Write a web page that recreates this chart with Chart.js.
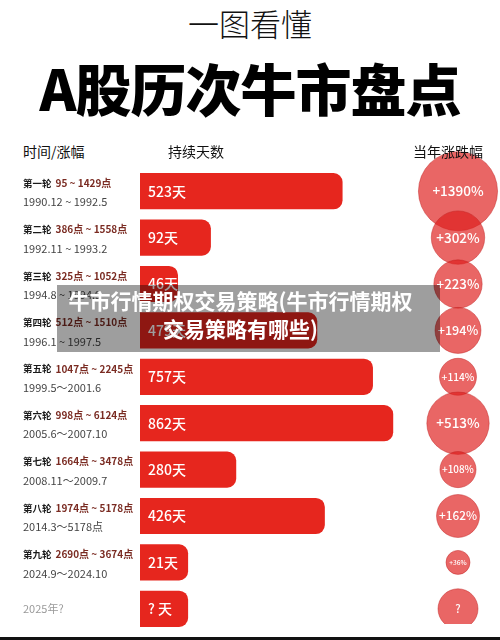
<!DOCTYPE html>
<html>
<head>
<meta charset="utf-8">
<script src="https://cdn.jsdelivr.net/npm/chart.js@4/dist/chart.umd.min.js"></script>
<style>
  html, body { margin: 0; padding: 0; background: #fff; }
  body { width: 500px; height: 640px; position: relative; overflow: hidden; font-family: "Noto Sans CJK SC", "Noto Sans", sans-serif; }
  .abs { position: absolute; white-space: nowrap; }
  #sub { left: 0; width: 500px; top: 4px; text-align: center; font-size: 31px; font-weight: 300; color: #111; line-height: 38px; }
  #title { left: 0; width: 500px; top: 54px; text-align: center; font-size: 56px; font-weight: 900; color: #000; line-height: 66px; letter-spacing: -1px; }
  .head { top: 141px; font-size: 14px; color: #111; line-height: 20px; }
  #overlay { left: 57px; top: 285px; width: 383px; height: 67px; background: rgba(0,0,0,0.38); color: #fff; font-size: 21px; font-weight: 700; line-height: 28px; padding-top: 1px; box-sizing: border-box; text-align: center; padding-right: 16px; z-index: 5; }
  #bottomline { left: 0; top: 637px; width: 500px; height: 3px; background: #111; }
  canvas { position: absolute; }
</style>
</head>
<body>
<div class="abs" id="sub">一图看懂</div>
<div class="abs" id="title">A股历次牛市盘点</div>

<canvas id="bars" width="416" height="464" style="left:0;top:168px"></canvas>
<canvas id="bubbles" width="84" height="484" style="left:416px;top:140px"></canvas>

<div class="abs head" style="left:23px">时间/涨幅</div>
<div class="abs head" style="left:168px">持续天数</div>
<div class="abs head" style="left:413px">当年涨跌幅</div>

<div class="abs" id="overlay">牛市行情期权交易策略(牛市行情期权<br>交易策略有哪些)</div>
<div class="abs" id="bottomline"></div>

<script>
// 每一轮牛市
const rounds = ['第一轮', '第二轮', '第三轮', '第四轮', '第五轮', '第六轮', '第七轮', '第八轮', '第九轮', ''];
const pointRanges = ['95 ~ 1429点', '386点 ~ 1558点', '325点 ~ 1052点', '512点 ~ 1510点', '1047点 ~ 2245点',
  '998点 ~ 6124点', '1664点 ~ 3478点', '1974点 ~ 5178点', '2690点 ~ 3674点', ''];
const periods = ['1990.12 ~ 1992.5', '1992.11 ~ 1993.2', '1994.8 ~ 1994.9', '1996.1 ~ 1997.5', '1999.5～2001.6',
  '2005.6～2007.10', '2008.11～2009.7', '2014.3～5178点', '2024.9～2024.10', '2025年?'];
// 持续天数 (null = 未知)
const days = [523, 92, 46, 479, 757, 862, 280, 426, 21, null];
// bar length as drawn in the source (longest = 100), not proportional to days
const barLength = [80, 28, 15, 70, 92, 100, 38, 73, 19, 19];
// 当年涨跌幅 %
const gains = [1390, 302, 223, 194, 114, 513, 108, 162, 36, null];

const ROW_TOP = 168, ROW_H = 46.4;
const CJK = '"Noto Sans CJK SC", "Noto Sans", sans-serif';

// left column text + labels inside bars
const barText = {
  id: 'barText',
  afterDatasetsDraw(chart) {
    const ctx = chart.ctx;
    const meta = chart.getDatasetMeta(0);
    ctx.save();
    ctx.textBaseline = 'middle';
    meta.data.forEach((bar, i) => {
      const y = bar.y;
      if (rounds[i]) {
        ctx.font = 'bold 9.5px ' + CJK;
        ctx.fillStyle = '#1a1a1a';
        ctx.fillText(rounds[i], 23, y - 8);
        const w = ctx.measureText(rounds[i]).width;
        ctx.font = 'bold 10px ' + CJK;
        ctx.fillStyle = '#7a2b22';
        ctx.fillText(pointRanges[i], 23 + w + 4, y - 8);
        ctx.font = '11px ' + CJK;
        ctx.fillStyle = '#444';
        ctx.fillText(periods[i], 23, y + 11);
      } else {
        ctx.font = '11px ' + CJK;
        ctx.fillStyle = '#999';
        ctx.fillText(periods[i], 23, y);
      }
      ctx.font = '500 14px ' + CJK;
      ctx.fillStyle = '#fff';
      ctx.fillText(days[i] == null ? '? 天' : days[i] + '天', bar.base + 8, y);
    });
    ctx.restore();
  }
};

new Chart(document.getElementById('bars'), {
  type: 'bar',
  data: {
    labels: periods,
    datasets: [{
      data: barLength,
      backgroundColor: '#e6261e',
      borderRadius: 9,
      barPercentage: 0.78,
      categoryPercentage: 1
    }]
  },
  options: {
    indexAxis: 'y',
    responsive: false,
    animation: false,
    devicePixelRatio: 1,
    layout: { padding: { left: 140, right: 0, top: 0, bottom: 0 } },
    scales: {
      x: { display: false, min: 0, max: 109 },
      y: { display: false }
    },
    plugins: { legend: { display: false }, tooltip: { enabled: false } }
  },
  plugins: [barText]
});

// bubble size grows with the yearly gain
function bubbleR(g) {
  if (g == null) return 20;
  return Math.max(12, 19.4 * Math.log10(g) - 21.4);
}

const bubbleText = {
  id: 'bubbleText',
  afterDatasetsDraw(chart) {
    const ctx = chart.ctx;
    const meta = chart.getDatasetMeta(0);
    ctx.save();
    ctx.textAlign = 'center';
    ctx.textBaseline = 'middle';
    ctx.fillStyle = '#fff';
    meta.data.forEach((pt, i) => {
      const r = pt.options.radius;
      const size = Math.min(13.5, r * 0.55);
      ctx.font = '500 ' + size.toFixed(1) + 'px ' + CJK;
      ctx.fillText(gains[i] == null ? '?' : '+' + gains[i] + '%', pt.x, pt.y);
    });
    ctx.restore();
  }
};

// canvas spans y 140..624, rows start at 168
const yMin = (140 - ROW_TOP) / ROW_H - 0.5;
const yMax = (624 - ROW_TOP) / ROW_H - 0.5;

new Chart(document.getElementById('bubbles'), {
  type: 'bubble',
  data: {
    datasets: [{
      data: gains.map((g, i) => ({ x: 0, y: i, r: bubbleR(g) })),
      backgroundColor: 'rgba(222, 30, 28, 0.68)',
      borderColor: 'rgba(190, 30, 30, 0.45)',
      borderWidth: 1,
      clip: false
    }]
  },
  options: {
    responsive: false,
    animation: false,
    devicePixelRatio: 1,
    layout: { padding: 0, autoPadding: false },
    scales: {
      x: { display: false, min: -1, max: 1 },
      y: { display: false, reverse: true, min: yMin, max: yMax }
    },
    plugins: { legend: { display: false }, tooltip: { enabled: false } }
  },
  plugins: [bubbleText]
});
</script>
</body>
</html>
